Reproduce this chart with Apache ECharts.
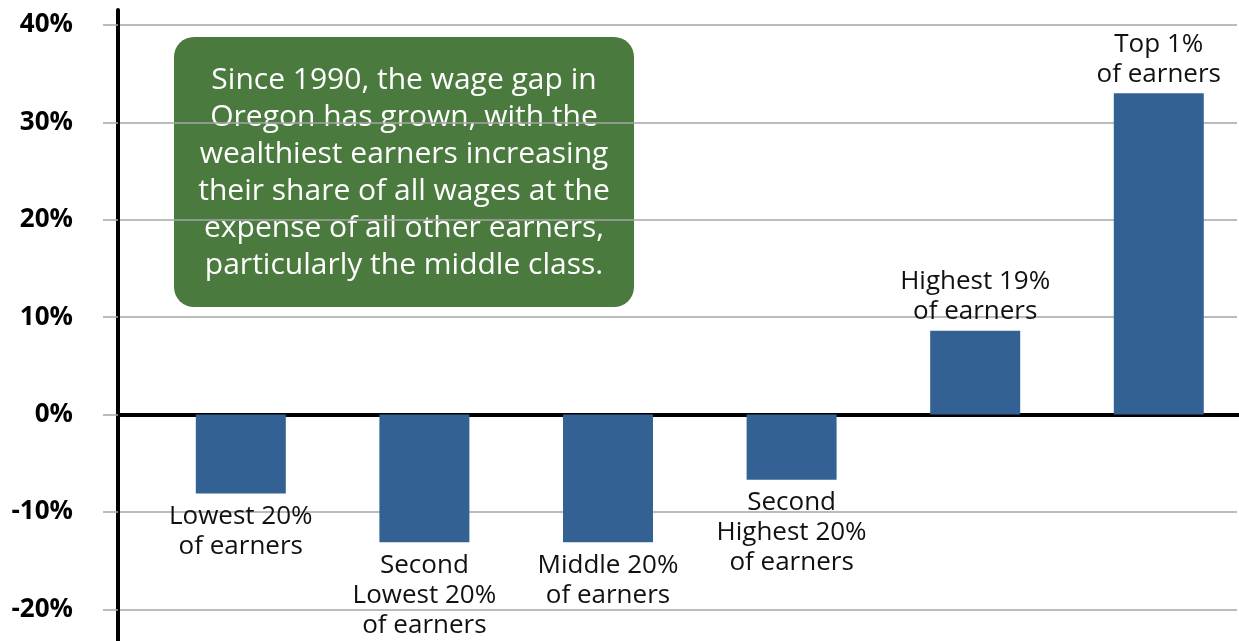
<!DOCTYPE html>
<html lang="en">
<head>
    <meta charset="UTF-8">
    <title>Oregon wage share change</title>
    <script src="https://cdn.jsdelivr.net/npm/echarts@6/dist/echarts.min.js"></script>
    <style>
        html, body { margin: 0; padding: 0; background: #fff; }
        #main { width: 1239px; height: 641px; }
    </style>
</head>
<body>
    <div id="main"></div>
    <script>
        // categories and values (change in share of wages, %)
        var categories = [
            'Lowest 20%\nof earners',
            'Second\nLowest 20%\nof earners',
            'Middle 20%\nof earners',
            'Second\nHighest 20%\nof earners',
            'Highest 19%\nof earners',
            'Top 1%\nof earners'
        ];
        var values = [-8.1, -13.1, -13.1, -6.7, 8.6, 33.0];
        var yTicks = [-20, -10, 0, 10, 20, 30, 40];
        var noteText = 'Since 1990, the wage gap in\nOregon has grown, with the\nwealthiest earners increasing\ntheir share of all wages at the\nexpense of all other earners,\nparticularly the middle class.';

        var yMin = -23.25, yMax = 41.55;   // axis line runs a little past the ticks
        var font = '"Open Sans", "Noto Sans", sans-serif';

        var myChart = echarts.init(document.getElementById('main'));

        myChart.setOption({
            animation: false,
            grid: [
                { left: 118, right: 2, top: 10, bottom: 0 },   // axes / grid lines
                { left: 149, right: 2, top: 10, bottom: 0 }    // bars
            ],
            xAxis: [
                {
                    gridIndex: 0, type: 'value', min: 0, max: 1,
                    axisLine: { onZero: true, lineStyle: { color: '#000', width: 4 } },
                    axisTick: { show: false }, axisLabel: { show: false }, splitLine: { show: false }
                },
                {
                    // one unit per category, last slot runs off the right edge
                    gridIndex: 1, type: 'value', min: -0.5, max: 5.426,
                    axisLine: { show: false }, axisTick: { show: false },
                    axisLabel: { show: false }, splitLine: { show: false }
                }
            ],
            yAxis: [
                {
                    gridIndex: 0, type: 'value', min: yMin, max: yMax,
                    axisLine: { show: true, lineStyle: { color: '#000', width: 4 } },
                    axisTick: { show: true, length: 15, customValues: yTicks, lineStyle: { color: '#a6a6a6', width: 1.5 } },
                    axisLabel: {
                        customValues: yTicks, margin: 45,
                        formatter: function (v) { return v + '%'; },
                        color: '#000', fontFamily: font, fontWeight: 'bold', fontSize: 26
                    },
                    splitLine: { show: true, lineStyle: { color: '#a6a6a6', width: 1.5 } }
                },
                {
                    // long black tick at 0%
                    gridIndex: 0, type: 'value', min: yMin, max: yMax,
                    axisLine: { show: false },
                    axisTick: { show: true, length: 36, customValues: [0], lineStyle: { color: '#000', width: 4 } },
                    axisLabel: { show: false }, splitLine: { show: false }
                },
                {
                    gridIndex: 1, type: 'value', min: yMin, max: yMax, show: false,
                    splitLine: { show: false }
                }
            ],
            series: [{
                type: 'bar',
                xAxisIndex: 1,
                yAxisIndex: 2,
                barWidth: 90,
                itemStyle: { color: '#346194' },
                data: values.map(function (v, i) {
                    return {
                        value: [i, v],
                        label: {
                            show: true,
                            position: v < 0 ? 'bottom' : 'top',
                            distance: v < 0 ? 8 : 4,
                            formatter: categories[i],
                            color: '#111',
                            fontFamily: font,
                            fontSize: 26,
                            lineHeight: 30
                        }
                    };
                })
            }],
            graphic: [{
                type: 'group',
                children: [{
                    type: 'rect',
                    shape: { x: 174, y: 37, width: 460, height: 270, r: 20 },
                    style: { fill: '#4a7a3d' }
                }, {
                    type: 'text',
                    style: {
                        x: 404, y: 173,
                        text: noteText,
                        fill: '#fff',
                        font: '30px ' + font,
                        textAlign: 'center',
                        textVerticalAlign: 'middle',
                        lineHeight: 37
                    }
                }]
            }]
        });
    </script>
</body>
</html>
